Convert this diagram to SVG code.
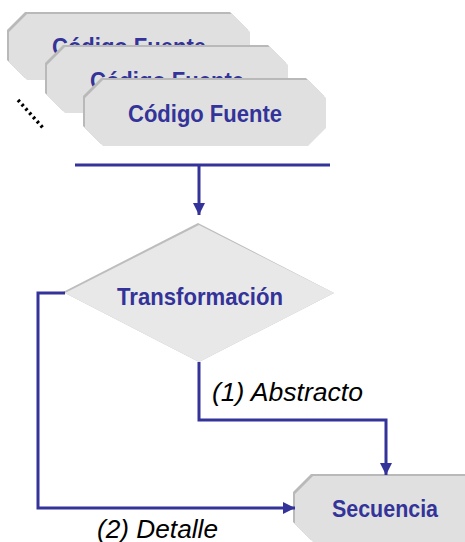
<svg xmlns="http://www.w3.org/2000/svg" width="465" height="542" viewBox="0 0 465 542">
<defs>
<style>
.bev{fill:#b9b9b9}
.box{fill:#e0e0e0}
.lbl{font-family:"Liberation Sans",Arial,sans-serif;font-weight:bold;font-size:24px;fill:#333399;text-anchor:middle}
.edge{font-family:"Liberation Sans",Arial,sans-serif;font-style:italic;font-size:25px;fill:#000}
.ln{fill:none;stroke:#333399;stroke-width:3}
</style>
<marker id="arr" viewBox="0 0 10 10" refX="10" refY="5" markerWidth="4" markerHeight="4" markerUnits="strokeWidth" orient="auto">
<path d="M0,0 L10,5 L0,10 Z" fill="#333399"/>
</marker>
<polygon id="oct" points="18,0 223,0 241,18 241,48 223,66 18,66 0,48 0,18"/>
</defs>
<g id="src1">
<use href="#oct" class="bev" x="7" y="12"/>
<use href="#oct" class="box" x="9" y="14"/>
<text class="lbl" x="129" y="55" textLength="154" lengthAdjust="spacingAndGlyphs">Código Fuente</text>
</g>
<g id="src2">
<use href="#oct" class="bev" x="45" y="45"/>
<use href="#oct" class="box" x="47" y="47"/>
<text class="lbl" x="167" y="89" textLength="154" lengthAdjust="spacingAndGlyphs">Código Fuente</text>
</g>
<g id="src3">
<use href="#oct" class="bev" x="83" y="78"/>
<use href="#oct" class="box" x="85" y="80"/>
<text class="lbl" x="205" y="122" textLength="154" lengthAdjust="spacingAndGlyphs">Código Fuente</text>
</g>
<g id="dots">
<line x1="18" y1="100" x2="44" y2="129" stroke="#000" stroke-width="3.5" stroke-dasharray="2.5,3.2"/>
</g>
<g id="transform">
<polygon points="198,223 63,292 199,362 334,293" fill="#bdbdbd"/>
<polygon points="199,225 65,293 199,362 334,293" fill="#e8e8e8"/>
<text class="lbl" x="200" y="305" textLength="166" lengthAdjust="spacingAndGlyphs">Transformación</text>
</g>
<g id="secuencia">
<use href="#oct" class="bev" x="293" y="474"/>
<use href="#oct" class="box" x="295" y="476"/>
<text class="lbl" x="385" y="517" textLength="106" lengthAdjust="spacingAndGlyphs">Secuencia</text>
</g>
<g id="connectors">
<line class="ln" x1="75" y1="165" x2="330" y2="165"/>
<polyline class="ln" points="199,165 199,215" marker-end="url(#arr)"/>
<polyline class="ln" points="199,362 199,420 386,420 386,475" marker-end="url(#arr)"/>
<polyline class="ln" points="65,293 38,293 38,508 295,508" marker-end="url(#arr)"/>
<text class="edge" x="212" y="401" textLength="151" lengthAdjust="spacingAndGlyphs">(1) Abstracto</text>
<text class="edge" x="97" y="538" textLength="121" lengthAdjust="spacingAndGlyphs">(2) Detalle</text>
</g>
</svg>
